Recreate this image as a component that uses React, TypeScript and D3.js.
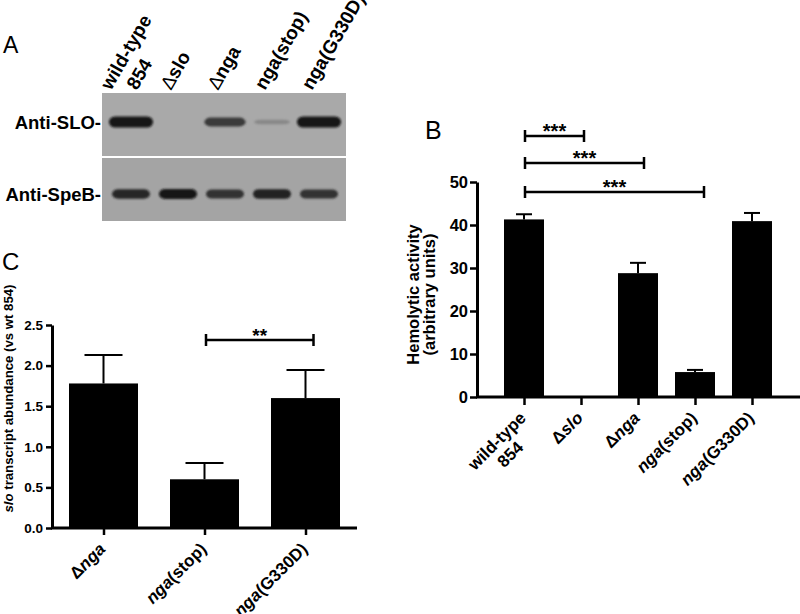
import { useEffect, useRef } from "react";
import * as d3 from "d3";

const FONT = "'Liberation Sans', Arial, sans-serif";

// panel A - western blot
const blotLanes = ["wild-type\n854", "Δslo", "Δnga", "nga(stop)", "nga(G330D)"];
const blotRows = ["Anti-SLO-", "Anti-SpeB-"];
const sloSignal = [1.0, 0, 0.72, 0.18, 1.0];
const speBSignal = [0.85, 1.0, 0.8, 0.9, 0.8];

// panel B - hemolytic activity
const hemoGroups = ["wild-type\n854", "Δslo", "Δnga", "nga(stop)", "nga(G330D)"];
const hemoMean = [41.3, 0, 28.8, 5.8, 40.9];
const hemoSem = [1.2, 0, 2.4, 0.5, 1.9];
const hemoTicks = [0, 10, 20, 30, 40, 50];
const hemoTitle = ["Hemolytic activity", "(arbitrary units)"];
const hemoSigFrom = [0, 0, 0];
const hemoSigTo = [1, 2, 3];
const hemoSigLevel = [60.7, 54.4, 47.7];
const hemoSigText = ["***", "***", "***"];

// panel C - slo transcript
const sloGroups = ["Δnga", "nga(stop)", "nga(G330D)"];
const sloMean = [1.78, 0.6, 1.6];
const sloSem = [0.35, 0.2, 0.345];
const sloTicks = [0, 0.5, 1.0, 1.5, 2.0, 2.5];
const sloTitle = "slo transcript abundance (vs wt 854)";
const sloSigFrom = [1];
const sloSigTo = [2];
const sloSigLevel = [2.315];
const sloSigText = ["**"];

// write a label into a text node, gene names in italics
function rich(sel: any, str: string, italic: boolean, thinDelta = false) {
  str.split(/(slo|nga|Δ)/).filter((s) => s !== "").forEach((s) => {
    const t = sel.append("tspan").text(s);
    if (italic && (s === "slo" || s === "nga")) t.attr("font-style", "italic");
    if (thinDelta && s === "Δ") t.attr("font-weight", "normal");
  });
}

const App = () => {
  const svgRef = useRef<SVGSVGElement>(null);

  useEffect(() => {
    const svg = d3.select(svgRef.current);
    svg.selectAll("*").remove();
    svg.attr("font-family", FONT);

    svg.append("defs").append("filter").attr("id", "soft")
      .attr("x", "-20%").attr("y", "-60%").attr("width", "140%").attr("height", "220%")
      .append("feGaussianBlur").attr("stdDeviation", 0.8);

    // ---------------- A ----------------
    svg.append("text").attr("x", 3).attr("y", 53).attr("font-size", 23).text("A");

    const lane = d3.scalePoint<string>().domain(blotLanes).range([131, 319]);
    const rowY = d3.scalePoint<string>().domain(blotRows).range([122, 194]);
    const blotLeft = 102, blotRight = 346;
    const strips = [[93, 156], [158, 221]];

    svg.append("g").selectAll("rect").data(strips).join("rect")
      .attr("x", blotLeft).attr("y", (d) => d[0])
      .attr("width", blotRight - blotLeft).attr("height", (d) => d[1] - d[0])
      .attr("fill", (_, i) => (i ? "#a4a4a4" : "#a9a9a9"));

    const shade = d3.scaleLinear<string>().domain([0, 1]).range(["#a2a2a2", "#131313"]);
    [sloSignal, speBSignal].forEach((sig, r) => {
      const cy = rowY(blotRows[r])!;
      const bands = sig.map((v, i) => ({ lane: blotLanes[i], v })).filter((d) => d.v > 0.05);
      svg.append("g").attr("filter", "url(#soft)")
        .selectAll("rect").data(bands).join("rect")
        .attr("x", (d) => lane(d.lane)! - (r === 0 ? 17 + 5 * d.v : 19))
        .attr("width", (d) => (r === 0 ? 34 + 10 * d.v : 38))
        .attr("y", (d) => cy - (r === 0 ? 1.5 + 4 * d.v : 3 + 2 * d.v))
        .attr("height", (d) => (r === 0 ? 3 + 8 * d.v : 6 + 4 * d.v))
        .attr("rx", 6)
        .attr("fill", (d) => shade(d.v));
    });

    svg.append("g").selectAll("text").data(blotRows).join("text")
      .attr("x", 101).attr("y", (d) => rowY(d)! + 7)
      .attr("text-anchor", "end").attr("font-size", 18.5).attr("font-weight", "bold")
      .text((d) => d);

    blotLanes.forEach((lab) => {
      const lines = lab.split("\n");
      lines.forEach((ln, i) => {
        const x = lane(lab)! - 7 + (i - (lines.length - 1) / 2) * 26;
        const t = svg.append("text")
          .attr("transform", `translate(${x},91) rotate(-60)`)
          .attr("font-size", 19).attr("font-weight", "bold");
        rich(t, ln, false, true);
      });
    });

    // rotated, centred multi-line tick labels ending at the tick
    const tickLabels = (g: any, labels: string[], xs: (s: string) => number, y0: number) => {
      labels.forEach((lab) => {
        const lines = lab.split("\n");
        const grp = g.append("g").attr("transform", `translate(${xs(lab) + 3},${y0}) rotate(-45)`);
        const nodes = lines.map((ln, i) => {
          const t = grp.append("text").attr("text-anchor", "end").attr("y", i * 19)
            .attr("font-size", 17).attr("font-weight", "bold");
          rich(t, ln, true);
          return t;
        });
        const widths = nodes.map((n: any) => (n.node() as SVGTextElement).getComputedTextLength());
        const wMax = Math.max(...widths);
        nodes.forEach((n: any, i: number) => n.attr("x", -(wMax - widths[i]) / 2));
      });
    };

    const bracket = (g: any, x1: number, x2: number, y: number, txt: string, fs: number) => {
      g.append("path")
        .attr("d", `M${x1},${y - 6}V${y + 6}M${x1},${y}H${x2}M${x2},${y - 6}V${y + 6}`)
        .attr("stroke", "#000").attr("stroke-width", 2.5).attr("fill", "none");
      g.append("text").attr("x", (x1 + x2) / 2).attr("y", y + 2)
        .attr("text-anchor", "middle").attr("font-size", fs).attr("font-weight", "bold").text(txt);
    };

    // ---------------- B ----------------
    svg.append("text").attr("x", 425).attr("y", 139).attr("font-size", 25).text("B");

    const yB = d3.scaleLinear().domain([0, 50]).range([397, 182]);
    const xB = d3.scalePoint<string>().domain(hemoGroups).range([524, 752]);
    const gB = svg.append("g");

    gB.selectAll("rect.bar").data(hemoGroups).join("rect").attr("class", "bar")
      .attr("x", (d) => xB(d)! - 20).attr("width", 40)
      .attr("y", (_, i) => yB(hemoMean[i]))
      .attr("height", (_, i) => yB(0) - yB(hemoMean[i]))
      .attr("fill", "#000");

    const errB = gB.append("g").attr("stroke", "#000").attr("stroke-width", 2);
    hemoGroups.forEach((g, i) => {
      if (hemoSem[i] <= 0) return;
      const x = xB(g)!;
      errB.append("line").attr("x1", x).attr("x2", x).attr("y1", yB(hemoMean[i])).attr("y2", yB(hemoMean[i] + hemoSem[i]));
      errB.append("line").attr("x1", x - 8).attr("x2", x + 8).attr("y1", yB(hemoMean[i] + hemoSem[i])).attr("y2", yB(hemoMean[i] + hemoSem[i]));
    });

    const axYB = gB.append("g").attr("transform", "translate(477,0)")
      .call(d3.axisLeft(yB).tickValues(hemoTicks).tickSize(7).tickSizeOuter(0).tickPadding(2));
    axYB.attr("font-size", 16.5).attr("font-family", FONT).attr("font-weight", "bold");
    axYB.select(".domain").attr("stroke-width", 3);
    axYB.selectAll(".tick line").attr("stroke-width", 2.5);

    const axXB = gB.append("g").attr("transform", "translate(0,397)")
      .call(d3.axisBottom(xB).tickSize(8).tickSizeOuter(0).tickFormat(() => ""));
    axXB.select(".domain").remove();
    axXB.selectAll(".tick line").attr("stroke-width", 2.5);
    gB.append("line").attr("x1", 476).attr("x2", 800).attr("y1", 397).attr("y2", 397)
      .attr("stroke", "#000").attr("stroke-width", 3);

    tickLabels(gB, hemoGroups, (s) => xB(s)!, 419);

    hemoTitle.forEach((t, i) => {
      gB.append("text").attr("transform", `translate(${419 + i * 15.5},294.5) rotate(-90)`)
        .attr("text-anchor", "middle").attr("font-size", 16.5).attr("font-weight", "bold").text(t);
    });

    hemoSigFrom.forEach((f, i) => {
      bracket(gB, xB(hemoGroups[f])! + 1, xB(hemoGroups[hemoSigTo[i]])! + 3 * (i + 1), yB(hemoSigLevel[i]), hemoSigText[i], 20);
    });

    // ---------------- C ----------------
    svg.append("text").attr("x", 2).attr("y", 270).attr("font-size", 24).text("C");

    const yC = d3.scaleLinear().domain([0, 2.5]).range([528, 325]);
    const xC = d3.scalePoint<string>().domain(sloGroups).range([103.5, 305.5]);
    const gC = svg.append("g");

    gC.selectAll("rect.bar").data(sloGroups).join("rect").attr("class", "bar")
      .attr("x", (d) => xC(d)! - 34.5).attr("width", 69)
      .attr("y", (_, i) => yC(sloMean[i]))
      .attr("height", (_, i) => yC(0) - yC(sloMean[i]))
      .attr("fill", "#000");

    const errC = gC.append("g").attr("stroke", "#000").attr("stroke-width", 2);
    sloGroups.forEach((g, i) => {
      const x = xC(g)!;
      const top = yC(sloMean[i] + sloSem[i]);
      errC.append("line").attr("x1", x).attr("x2", x).attr("y1", yC(sloMean[i])).attr("y2", top);
      errC.append("line").attr("x1", x - 19).attr("x2", x + 19).attr("y1", top).attr("y2", top);
    });

    const axYC = gC.append("g").attr("transform", "translate(52,0)")
      .call(d3.axisLeft(yC).tickValues(sloTicks).tickSize(6).tickSizeOuter(0).tickPadding(3).tickFormat(d3.format(".1f")));
    axYC.attr("font-size", 13.5).attr("font-family", FONT).attr("font-weight", "bold");
    axYC.select(".domain").attr("stroke-width", 3);
    axYC.selectAll(".tick line").attr("stroke-width", 2.5);

    const axXC = gC.append("g").attr("transform", "translate(0,528)")
      .call(d3.axisBottom(xC).tickSize(7).tickSizeOuter(0).tickFormat(() => ""));
    axXC.select(".domain").remove();
    axXC.selectAll(".tick line").attr("stroke-width", 2.5);
    gC.append("line").attr("x1", 51).attr("x2", 357).attr("y1", 528).attr("y2", 528)
      .attr("stroke", "#000").attr("stroke-width", 3);

    tickLabels(gC, sloGroups, (s) => xC(s)!, 550);

    const tC = gC.append("text").attr("transform", "translate(13,398.5) rotate(-90)")
      .attr("text-anchor", "middle").attr("font-size", 13.2).attr("font-weight", "bold");
    rich(tC, sloTitle, true);

    sloSigFrom.forEach((f, i) => {
      bracket(gC, xC(sloGroups[f])! + 1.5, xC(sloGroups[sloSigTo[i]])! + 8, yC(sloSigLevel[i]), sloSigText[i], 19);
    });
  }, []);

  return (
    <svg ref={svgRef} width={800} height={614}
      style={{ position: "absolute", left: 0, top: 0, background: "#fff" }} />
  );
};

export default App;
